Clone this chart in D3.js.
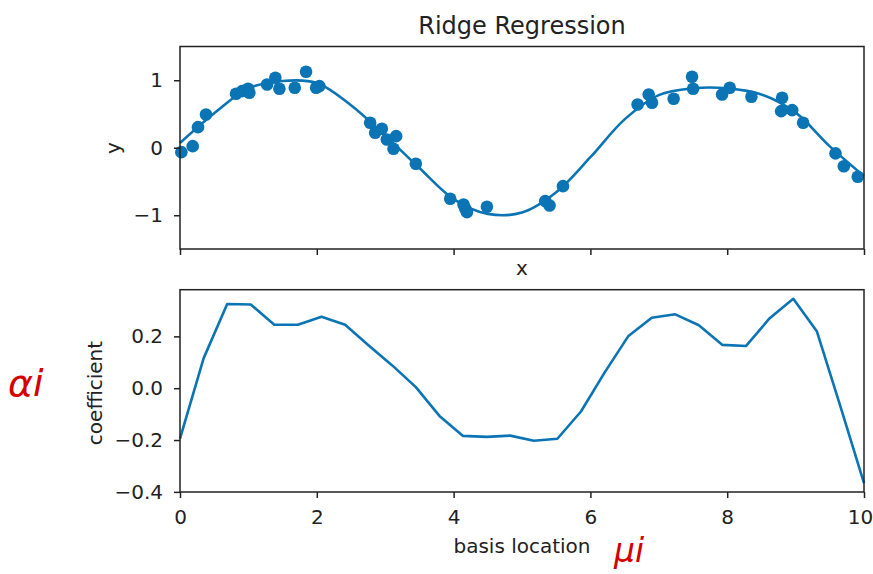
<!DOCTYPE html>
<html>
<head>
<meta charset="utf-8">
<script src="https://cdn.jsdelivr.net/npm/d3@7"></script>
<style>
  body { margin: 0; background: #fff; }
  svg text { font-family: "DejaVu Sans", sans-serif; fill: #222; }
</style>
</head>
<body>
<script>

// scatter data (top panel)
var pointX = [0.02, 0.186, 0.263, 0.38, 0.819, 0.907, 0.995, 1.014, 1.273, 1.394, 1.453, 1.678, 1.843, 1.99, 2.038,
	2.78, 2.853, 2.951, 3.024, 3.16, 3.121, 3.448, 3.95, 4.145, 4.195, 4.17, 4.487,
	5.34, 5.403, 5.599, 6.69, 6.852, 6.901, 7.217, 7.486, 7.501,
	7.925, 8.037, 8.354, 8.803, 8.789, 8.95, 9.11, 9.583, 9.705, 9.909];
var pointY = [-0.065, 0.024, 0.305, 0.493, 0.80, 0.839, 0.874, 0.815, 0.938, 1.037, 0.874, 0.889, 1.126, 0.889, 0.913,
	0.37, 0.222, 0.281, 0.123, 0.172, -0.015, -0.237, -0.756, -0.84, -0.954, -0.9, -0.874,
	-0.791, -0.855, -0.569, 0.641, 0.79, 0.667, 0.726, 1.052, 0.874,
	0.79, 0.889, 0.756, 0.741, 0.542, 0.557, 0.37, -0.084, -0.273, -0.43];

// fitted model curve
var fitX = [0, 0.5, 1, 1.5, 2, 2.5, 3, 3.5, 4, 4.5, 5, 5.5, 6, 6.5, 7, 7.5, 8, 8.5, 9, 9.5, 10];
var fitY = [0.07, 0.51, 0.88, 0.99, 0.96, 0.63, 0.18, -0.30, -0.76, -0.98, -0.96, -0.66, -0.14, 0.42, 0.78, 0.88, 0.88, 0.79, 0.52, 0.02, -0.42];

// basis locations and ridge coefficients (bottom panel)
var basisLoc = [0, 0.345, 0.69, 1.034, 1.379, 1.724, 2.069, 2.414, 2.759, 3.103, 3.448, 3.793, 4.138, 4.483, 4.828,
	5.172, 5.517, 5.862, 6.207, 6.552, 6.897, 7.241, 7.586, 7.931, 8.276, 8.621, 8.966, 9.31, 9.655, 10];
var coef = [-0.195, 0.115, 0.325, 0.323, 0.245, 0.245, 0.276, 0.245, 0.165, 0.088, 0.004, -0.107, -0.184, -0.188, -0.183,
	-0.203, -0.195, -0.09, 0.06, 0.2, 0.272, 0.285, 0.243, 0.167, 0.163, 0.27, 0.345, 0.22, -0.07, -0.366];

var topYTicks = [-1, 0, 1];
var xTicks = [0, 2, 4, 6, 8, 10];
var botYTicks = [-0.4, -0.2, 0.0, 0.2];

var blue = "#0a74b5";
var fontSize = "20px";

function fmtMinus(s) { return s.replace("-", "\u2212"); }

function main() {
	var W = 873, H = 574;
	var left = 180, right = 864;

	var svg = d3.select("body").append("svg")
		.attr("width", W)
		.attr("height", H);

	// ---- top panel ----
	var xTop = d3.scaleLinear().domain([0, 10]).range([left, right]);
	var yTop = d3.scaleLinear().domain([-1.5, 1.5]).range([249, 46.5]);

	var gTop = svg.append("g");

	var fit = fitX.map(function(d, i) { return [d, fitY[i]]; });
	gTop.append("path")
		.datum(fit)
		.attr("fill", "none")
		.attr("stroke", blue)
		.attr("stroke-width", 2.6)
		.attr("d", d3.line()
			.x(function(d) { return xTop(d[0]); })
			.y(function(d) { return yTop(d[1]); })
			.curve(d3.curveCatmullRom));

	gTop.selectAll("circle")
		.data(pointX)
		.enter().append("circle")
		.attr("cx", function(d) { return xTop(d); })
		.attr("cy", function(d, i) { return yTop(pointY[i]); })
		.attr("r", 6.3)
		.attr("fill", blue);

	// axes top
	gTop.append("g")
		.attr("transform", "translate(0,249)")
		.call(d3.axisBottom(xTop).tickValues(xTicks).tickSize(6).tickFormat(""))
		.call(styleAxis);
	gTop.append("g")
		.attr("transform", "translate(" + left + ",0)")
		.call(d3.axisLeft(yTop).tickValues(topYTicks).tickSize(6).tickPadding(11)
			.tickFormat(function(d) { return fmtMinus(d3.format("d")(d)); }))
		.call(styleAxis);

	gTop.append("rect")
		.attr("x", left).attr("y", 46.5)
		.attr("width", right - left).attr("height", 249 - 46.5)
		.attr("fill", "none").attr("stroke", "#222").attr("stroke-width", 1.5);

	svg.append("text")
		.attr("x", (left + right) / 2).attr("y", 34)
		.attr("text-anchor", "middle")
		.style("font-size", "24px")
		.text("Ridge Regression");

	svg.append("text")
		.attr("x", (left + right) / 2).attr("y", 275)
		.attr("text-anchor", "middle")
		.style("font-size", fontSize)
		.text("x");

	svg.append("text")
		.attr("transform", "translate(120,148) rotate(-90)")
		.attr("text-anchor", "middle")
		.style("font-size", fontSize)
		.text("y");

	// ---- bottom panel ----
	var xBot = d3.scaleLinear().domain([0, 10]).range([left, right]);
	var yBot = d3.scaleLinear().domain([-0.4005, 0.38]).range([492, 289.7]);

	var gBot = svg.append("g");

	gBot.append("path")
		.datum(basisLoc)
		.attr("fill", "none")
		.attr("stroke", blue)
		.attr("stroke-width", 2.6)
		.attr("stroke-linejoin", "round")
		.attr("d", d3.line()
			.x(function(d) { return xBot(d); })
			.y(function(d, i) { return yBot(coef[i]); }));

	var xAxisBot = gBot.append("g")
		.attr("transform", "translate(0,492)")
		.call(d3.axisBottom(xBot).tickValues(xTicks).tickSize(6).tickPadding(12)
			.tickFormat(d3.format("d")))
		.call(styleAxis);
	// keep the last label inside the window
	xAxisBot.selectAll(".tick text").filter(function(d) { return d === 10; })
		.attr("dx", -4);

	gBot.append("g")
		.attr("transform", "translate(" + left + ",0)")
		.call(d3.axisLeft(yBot).tickValues(botYTicks).tickSize(6).tickPadding(11)
			.tickFormat(function(d) { return fmtMinus(d3.format(".1f")(d)); }))
		.call(styleAxis);

	gBot.append("rect")
		.attr("x", left).attr("y", 289.7)
		.attr("width", right - left).attr("height", 492 - 289.7)
		.attr("fill", "none").attr("stroke", "#222").attr("stroke-width", 1.5);

	svg.append("text")
		.attr("x", (left + right) / 2).attr("y", 553)
		.attr("text-anchor", "middle")
		.style("font-size", fontSize)
		.text("basis location");

	svg.append("text")
		.attr("transform", "translate(102,393) rotate(-90)")
		.attr("text-anchor", "middle")
		.style("font-size", fontSize)
		.text("coefficient");

	// handwritten notes
	svg.append("text")
		.attr("x", 8).attr("y", 396)
		.style("font-size", "38px")
		.style("font-style", "italic")
		.style("fill", "#d40000")
		.text("\u03b1i");
	svg.append("text")
		.attr("x", 614).attr("y", 562)
		.style("font-size", "33px")
		.style("font-style", "italic")
		.style("fill", "#d40000")
		.text("\u03bci");
}

function styleAxis(g) {
	g.select(".domain").remove();
	g.selectAll(".tick line").attr("stroke", "#222").attr("stroke-width", 1.5);
	g.selectAll(".tick text")
		.attr("fill", "#222")
		.style("font-size", fontSize)
		.style("font-family", "DejaVu Sans, sans-serif");
}

main();
</script>
</body>
</html>
